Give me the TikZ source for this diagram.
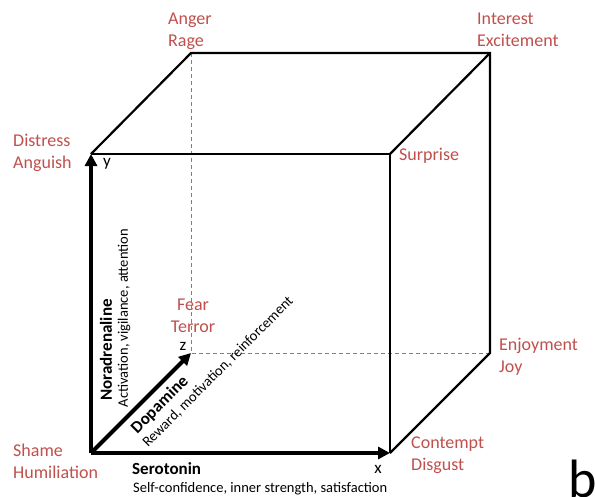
\documentclass[tikz,border=0pt]{standalone}
\usepackage{fontspec}
\setmainfont{Carlito}
\usetikzlibrary{arrows.meta}
\definecolor{Emotion}{HTML}{C0504D}

\begin{document}
\begin{tikzpicture}[x=1pt,y=-1pt,
  emotion/.style={text=Emotion,font=\fontsize{18}{22}\selectfont,align=left,inner sep=0pt,anchor=base west},
  edge/.style={line width=2.2pt,line join=miter},
  hidden/.style={gray,line width=0.8pt,dash pattern=on 4pt off 3pt},
  axis/.style={line width=4pt,-{Triangle[length=12pt,width=12pt]}},
  letter/.style={font=\fontsize{17}{17}\selectfont,inner sep=0pt},
  transmitter/.style={font=\fontsize{17}{17}\bfseries\selectfont,inner sep=0pt},
  effect/.style={font=\fontsize{14.5}{14.5}\selectfont,inner sep=0pt}]

\fill [white] (0,0) rectangle (595,496);
\useasboundingbox (0,0) rectangle (595,496);

\coordinate (O) at (91,453);
\coordinate (X) at (390,453);
\coordinate (Y) at (91,154);
\coordinate (XY) at (390,154);
\coordinate (Z) at (191,353);
\coordinate (XZ) at (490,353);
\coordinate (YZ) at (191,53);
\coordinate (XYZ) at (490,53);

\draw [hidden] (YZ) -- (Z) -- (XZ);

\draw [edge] (Y) -- (XY) -- (X);
\draw [edge] (Y) -- (YZ) -- (XYZ) -- (XZ) -- (X);
\draw [edge] (XY) -- (XYZ);

\draw [axis] (O) -- (X);
\draw [axis] (O) -- (Y);
\draw [axis] (O) -- (Z);

\node [letter] (xlab) at (378,469) {x};
\node [letter] (ylab) at (107,164) {y};
\node [letter] (zlab) at (183,346) {z};

\node [emotion] (anger) at (168,46) {Anger\\Rage};
\node [emotion] (interest) at (477,46) {Interest\\Excitement};
\node [emotion] (distress) at (13,168) {Distress\\Anguish};
\node [emotion] (surprise) at (399,160) {Surprise};
\node [emotion,align=center,anchor=base] (fear) at (193,332) {Fear\\Terror};
\node [emotion] (enjoyment) at (499,372) {Enjoyment\\Joy};
\node [emotion] (shame) at (13,478) {Shame\\Humiliation};
\node [emotion] (contempt) at (411,470) {Contempt\\Disgust};

\node [transmitter,rotate=90] (nor) at (106,350) {Noradrenaline};
\node [effect,rotate=90] (noreff) at (124,318) {Activation, vigilance, attention};
\node [transmitter,rotate=45] (dop) at (160,405) {Dopamine};
\node [effect,rotate=45] (dopeff) at (218,372) {Reward, motivation, reinforcement};
\node [transmitter,anchor=base west] (ser) at (132,474) {Serotonin};
\node [effect,anchor=base west] (sereff) at (133,492) {Self-confidence, inner strength, satisfaction};

\node [inner sep=0pt,anchor=base west,font=\fontsize{54}{54}\selectfont] (panel) at (568,497) {b};

\end{tikzpicture}
\end{document}
